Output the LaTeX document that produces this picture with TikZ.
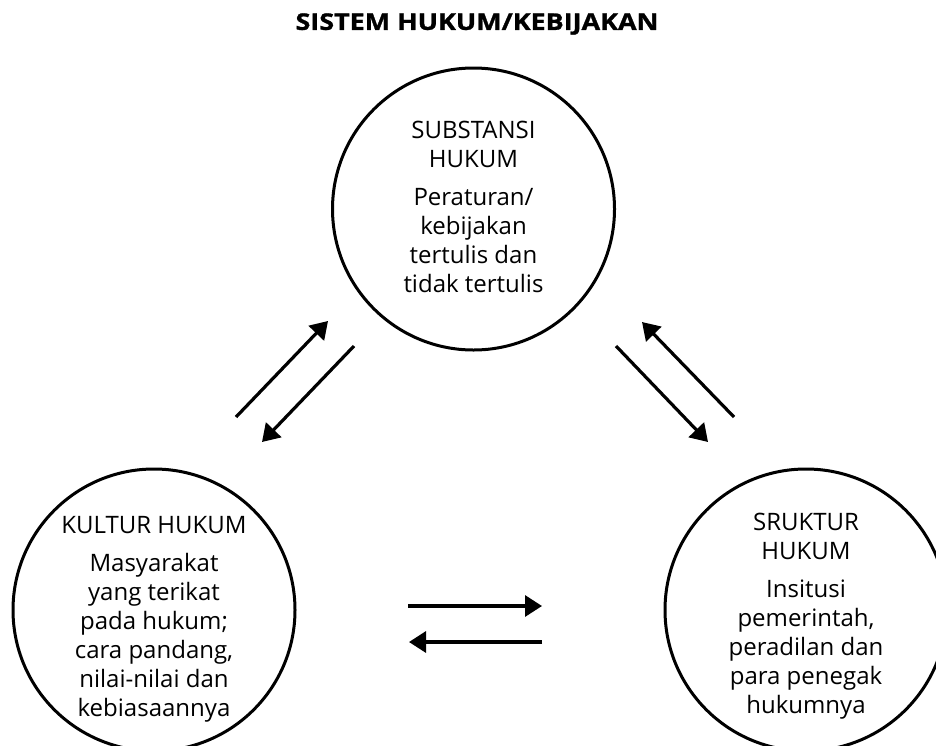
\documentclass[tikz,border=0pt]{standalone}
\usepackage{fontspec}
\setmainfont{Open Sans}
\newfontfamily\titlefont[FakeStretch=1.17, FakeBold=1.2]{Open Sans}
\usetikzlibrary{arrows.meta}
\tikzset{
  pillar/.style={circle, draw, line width=3pt, minimum size=282pt, inner sep=0pt},
  pilltext/.style={align=center, inner sep=0pt, anchor=north,
    font=\fontsize{24}{29}\selectfont},
  flow/.style={line width=3.2pt, -{Triangle[length=17pt,width=21pt]}},
  headline/.style={font=\titlefont\fontsize{23}{27}\selectfont\bfseries, inner sep=0pt}
}
\begin{document}
\begin{tikzpicture}[x=1pt,y=-1pt]
  \useasboundingbox (0,0) rectangle (936,745);

  % title
  \node[headline] (title) at (477,24) {SISTEM HUKUM/KEBIJAKAN};

  % the three pillars of the legal system
  \node[pillar] (subst) at (473.5,209) {};
  \node[pillar] (kultur) at (154,610) {};
  \node[pillar] (struk) at (806,610) {};

  \node[pilltext] (substtxt) at (473.5,121)
    {SUBSTANSI\\HUKUM\\[9pt]Peraturan/\\kebijakan\\tertulis dan\\tidak tertulis};
  \node[pilltext] (kulturtxt) at (154,516)
    {KULTUR HUKUM\\[9pt]Masyarakat\\yang terikat\\pada hukum;\\cara pandang,\\nilai-nilai dan\\kebiasaannya};
  \node[pilltext] (struktxt) at (806,513)
    {SRUKTUR\\HUKUM\\[9pt]Insitusi\\pemerintah,\\peradilan dan\\para penegak\\hukumnya};

  % arrow end points
  \coordinate (klA) at (236,417);  \coordinate (sbA) at (328,321);
  \coordinate (sbB) at (354,346);  \coordinate (klB) at (262,442);
  \coordinate (stA) at (734,417);  \coordinate (sbC) at (642,322);
  \coordinate (sbD) at (616,346);  \coordinate (stB) at (708,442);
  \coordinate (klC) at (408,606);  \coordinate (stC) at (542,606);
  \coordinate (stD) at (542,642);  \coordinate (klD) at (409,642);

  % two-way influence between the pillars
  \draw[flow] (klA) -- (sbA);
  \draw[flow] (sbB) -- (klB);
  \draw[flow] (stA) -- (sbC);
  \draw[flow] (sbD) -- (stB);
  \draw[flow] (klC) -- (stC);
  \draw[flow] (stD) -- (klD);
\end{tikzpicture}
\end{document}
